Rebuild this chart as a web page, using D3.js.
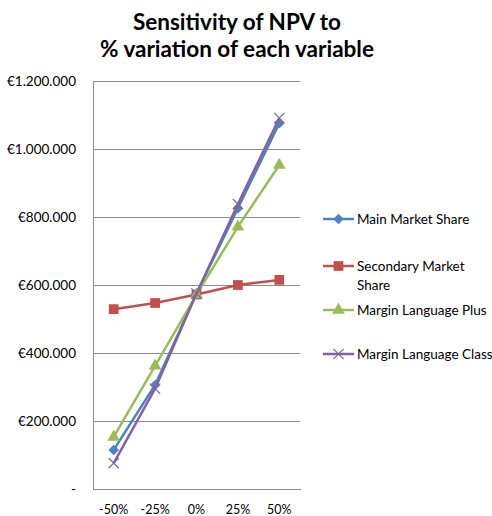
<!DOCTYPE html>
<html>
<head>
<meta charset="utf-8">
<script src="https://cdn.jsdelivr.net/npm/d3@7/dist/d3.min.js"></script>
<style>
  html, body { margin: 0; padding: 0; background: #fff; }
  svg { display: block; }
  text { font-family: Lato, "Open Sans", sans-serif; fill: #000; }
</style>
</head>
<body>
<svg id="chart" width="492" height="516"></svg>
<script>
// Percentage variation applied to each input variable
const categories = ["-50%", "-25%", "0%", "25%", "50%"];

// Resulting NPV (EUR) for each variable
const mainMarketShare      = [115000, 306000, 575000, 826000, 1076000];
const secondaryMarketShare = [529000, 547000, 572000, 600000, 615000];
const marginLanguagePlus   = [153000, 362000, 572000, 771000, 953000];
const marginLanguageClass  = [76000, 295000, 575000, 838000, 1091000];

const seriesNames = ["Main Market Share", "Secondary Market Share", "Margin Language Plus", "Margin Language Class"];
const yTicks = [0, 200000, 400000, 600000, 800000, 1000000, 1200000];

const series = [
  { name: seriesNames[0], values: mainMarketShare,      color: "#4F81BD", symbol: d3.symbolDiamond2, size: 70 },
  { name: seriesNames[1], values: secondaryMarketShare, color: "#C0504D", symbol: d3.symbolSquare,   size: 95 },
  { name: seriesNames[2], values: marginLanguagePlus,   color: "#9BBB59", symbol: d3.symbolTriangle, size: 70 },
  { name: seriesNames[3], values: marginLanguageClass,  color: "#8064A2", symbol: d3.symbolTimes,    size: 70 }
];

const svg = d3.select("#chart");
const plot = { left: 93, right: 300, top: 81, bottom: 489 };

const x = d3.scaleBand().domain(categories).range([plot.left, plot.right]);
const y = d3.scaleLinear().domain([0, 1200000]).range([plot.bottom, plot.top]);

// Title
const title = svg.append("text")
  .attr("x", 237).attr("text-anchor", "middle")
  .style("font-weight", "bold").style("font-size", "22.5px");
title.append("tspan").attr("x", 237).attr("y", 30).text("Sensitivity of NPV to");
title.append("tspan").attr("x", 237).attr("y", 57).text("% variation of each variable");

// Horizontal gridlines
svg.append("g").selectAll("line").data(yTicks.filter(d => d > 0)).join("line")
  .attr("x1", plot.left).attr("x2", plot.right)
  .attr("y1", d => y(d)).attr("y2", d => y(d))
  .attr("stroke", "#8c8c8c").attr("stroke-width", 1).attr("shape-rendering", "crispEdges");

// Y axis
const fmt = d => d === 0 ? "-" : "€" + d3.format(",")(d).replace(/,/g, ".");
const yAxis = d3.axisLeft(y).tickValues(yTicks).tickFormat(fmt).tickSize(0).tickPadding(17);
const gy = svg.append("g").attr("transform", `translate(${plot.left},0)`).call(yAxis);
gy.select(".domain").attr("stroke", "#8c8c8c").attr("shape-rendering", "crispEdges");
gy.selectAll("text").style("font-size", "13.5px").style("font-family", "Lato, sans-serif");

// X axis
const xAxis = d3.axisBottom(x).tickSize(0).tickPadding(16);
const gx = svg.append("g").attr("transform", `translate(0,${plot.bottom})`).call(xAxis);
gx.select(".domain").attr("stroke", "#8c8c8c").attr("shape-rendering", "crispEdges");
gx.selectAll("text").style("font-size", "12.5px").style("font-family", "Lato, sans-serif");

const cx = c => x(c) + x.bandwidth() / 2;
const line = d3.line().x((d, i) => cx(categories[i])).y(d => y(d));

// Series lines and markers
series.forEach(s => {
  const g = svg.append("g");
  g.append("path").datum(s.values)
    .attr("d", line).attr("fill", "none")
    .attr("stroke", s.color).attr("stroke-width", 2.5);
  const sym = d3.symbol().type(s.symbol).size(s.size);
  g.selectAll("path.m").data(s.values).join("path").attr("class", "m")
    .attr("transform", (d, i) => `translate(${cx(categories[i])},${y(d)})`)
    .attr("d", sym())
    .attr("fill", s.symbol === d3.symbolTimes ? "none" : s.color)
    .attr("stroke", s.symbol === d3.symbolTimes ? s.color : "none")
    .attr("stroke-width", 1.2);
});

// Legend
const legendRows = [
  { s: series[0], y: 219, lines: ["Main Market Share"] },
  { s: series[1], y: 266, lines: ["Secondary Market", "Share"] },
  { s: series[2], y: 310, lines: ["Margin Language Plus"] },
  { s: series[3], y: 354, lines: ["Margin Language Class"] }
];
const legend = svg.append("g");
legendRows.forEach(r => {
  legend.append("line")
    .attr("x1", 323).attr("x2", 354).attr("y1", r.y).attr("y2", r.y)
    .attr("stroke", r.s.color).attr("stroke-width", 2.5);
  legend.append("path")
    .attr("transform", `translate(338.5,${r.y})`)
    .attr("d", d3.symbol().type(r.s.symbol).size(r.s.size)())
    .attr("fill", r.s.symbol === d3.symbolTimes ? "none" : r.s.color)
    .attr("stroke", r.s.symbol === d3.symbolTimes ? r.s.color : "none")
    .attr("stroke-width", 1.2);
  const t = legend.append("text").style("font-size", "13.5px");
  r.lines.forEach((ln, i) => {
    t.append("tspan").attr("x", 357).attr("y", r.y + 4.5 + i * 19).text(ln);
  });
});
</script>
</body>
</html>
